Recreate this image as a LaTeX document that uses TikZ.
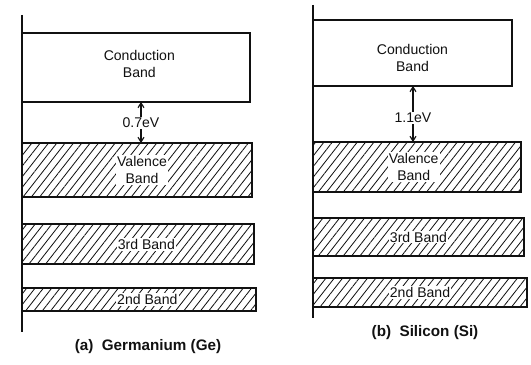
\documentclass[tikz,border=0pt]{standalone}
\usepackage{fontspec}
\setsansfont{Liberation Sans}
\usetikzlibrary{arrows.meta,calc,positioning,patterns.meta}
\definecolor{ink}{HTML}{111111}
\tikzset{
    >={Straight Barb[length=1.4mm,width=1.8mm]},
    axisline/.style={draw=ink, line width=1.2pt},
    band/.style={draw=ink, fill=white, line width=1.2pt, inner sep=0pt,
                 outer sep=0pt, anchor=north west},
    hatched/.style={band, pattern={Lines[angle=52,distance=5.6pt,line width=0.7pt]},
                    pattern color=ink},
    band text/.style={font=\sffamily\fontsize{12}{14}\selectfont, text=ink,
                      align=center, fill=white, inner sep=1pt},
    gap arrow/.style={ink, line width=1pt, ->},
    gap label/.style={font=\sffamily\fontsize{12}{14}\selectfont, text=ink,
                      fill=white, inner sep=1pt},
    caption/.style={font=\sffamily\bfseries\fontsize{13}{15}\selectfont, text=ink},
}
\begin{document}
\begin{tikzpicture}[font=\sffamily]
\useasboundingbox (0,0) rectangle (15.93,10.95);

% ---------------------------------------------------------------------------
% Panel A: germanium
% ---------------------------------------------------------------------------
\begin{scope}
    \coordinate (axA top) at (0.66,10.50);
    \coordinate (axA bot) at (0.66,0.99);
    \draw[axisline] (axA top) -- (axA bot);

    \node[band, minimum width=6.84cm, minimum height=2.07cm] (condA) at (0.66,9.96) {};
    \node[hatched, minimum width=6.90cm, minimum height=1.62cm] (valA) at (0.66,6.66) {};
    \node[hatched, minimum width=6.96cm, minimum height=1.20cm] (thirdA) at (0.66,4.23) {};
    \node[hatched, minimum width=7.02cm, minimum height=0.69cm] (secondA) at (0.66,2.31) {};

    \node[band text, fill=none] (condAtxt) at ($(condA.center)+(0.10,0.10)$) {Conduction\\Band};
    \node[band text] (valAtxt) at ($(valA.center)+(0.15,0)$) {Valence\\Band};
    \node[band text] (thirdAtxt) at ($(thirdA.center)+(0.25,-0.02)$) {3rd Band};
    \node[band text] (secondAtxt) at ($(secondA.center)+(0.25,0)$) {2nd Band};

    \node[gap label] (gapA) at (4.23,7.26) {0.7eV};
    \draw[gap arrow] (gapA.north) -- (condA.south -| gapA);
    \draw[gap arrow] (gapA.south) -- (valA.north -| gapA);

    \node[caption] (capA) at (4.44,0.54) {(a)~~Germanium (Ge)};
\end{scope}

% ---------------------------------------------------------------------------
% Panel B: silicon
% ---------------------------------------------------------------------------
\begin{scope}
    \coordinate (axB top) at (9.39,10.80);
    \coordinate (axB bot) at (9.39,1.41);
    \draw[axisline] (axB top) -- (axB bot);

    \node[band, minimum width=5.97cm, minimum height=1.98cm] (condB) at (9.39,10.35) {};
    \node[hatched, minimum width=6.24cm, minimum height=1.50cm] (valB) at (9.39,6.69) {};
    \node[hatched, minimum width=6.33cm, minimum height=1.14cm] (thirdB) at (9.39,4.41) {};
    \node[hatched, minimum width=6.42cm, minimum height=0.87cm] (secondB) at (9.39,2.61) {};

    \node[band text, fill=none] (condBtxt) at ($(condB.center)+(0,-0.15)$) {Conduction\\Band};
    \node[band text] (valBtxt) at ($(valB.center)+(-0.10,0)$) {Valence\\Band};
    \node[band text] (thirdBtxt) at (thirdB.center) {3rd Band};
    \node[band text] (secondBtxt) at (secondB.center) {2nd Band};

    \node[gap label] (gapB) at (12.39,7.41) {1.1eV};
    \draw[gap arrow] (gapB.north) -- (condB.south -| gapB);
    \draw[gap arrow] (gapB.south) -- (valB.north -| gapB);

    \node[caption] (capB) at (12.75,0.96) {(b)~~Silicon (Si)};
\end{scope}

\end{tikzpicture}
\end{document}
